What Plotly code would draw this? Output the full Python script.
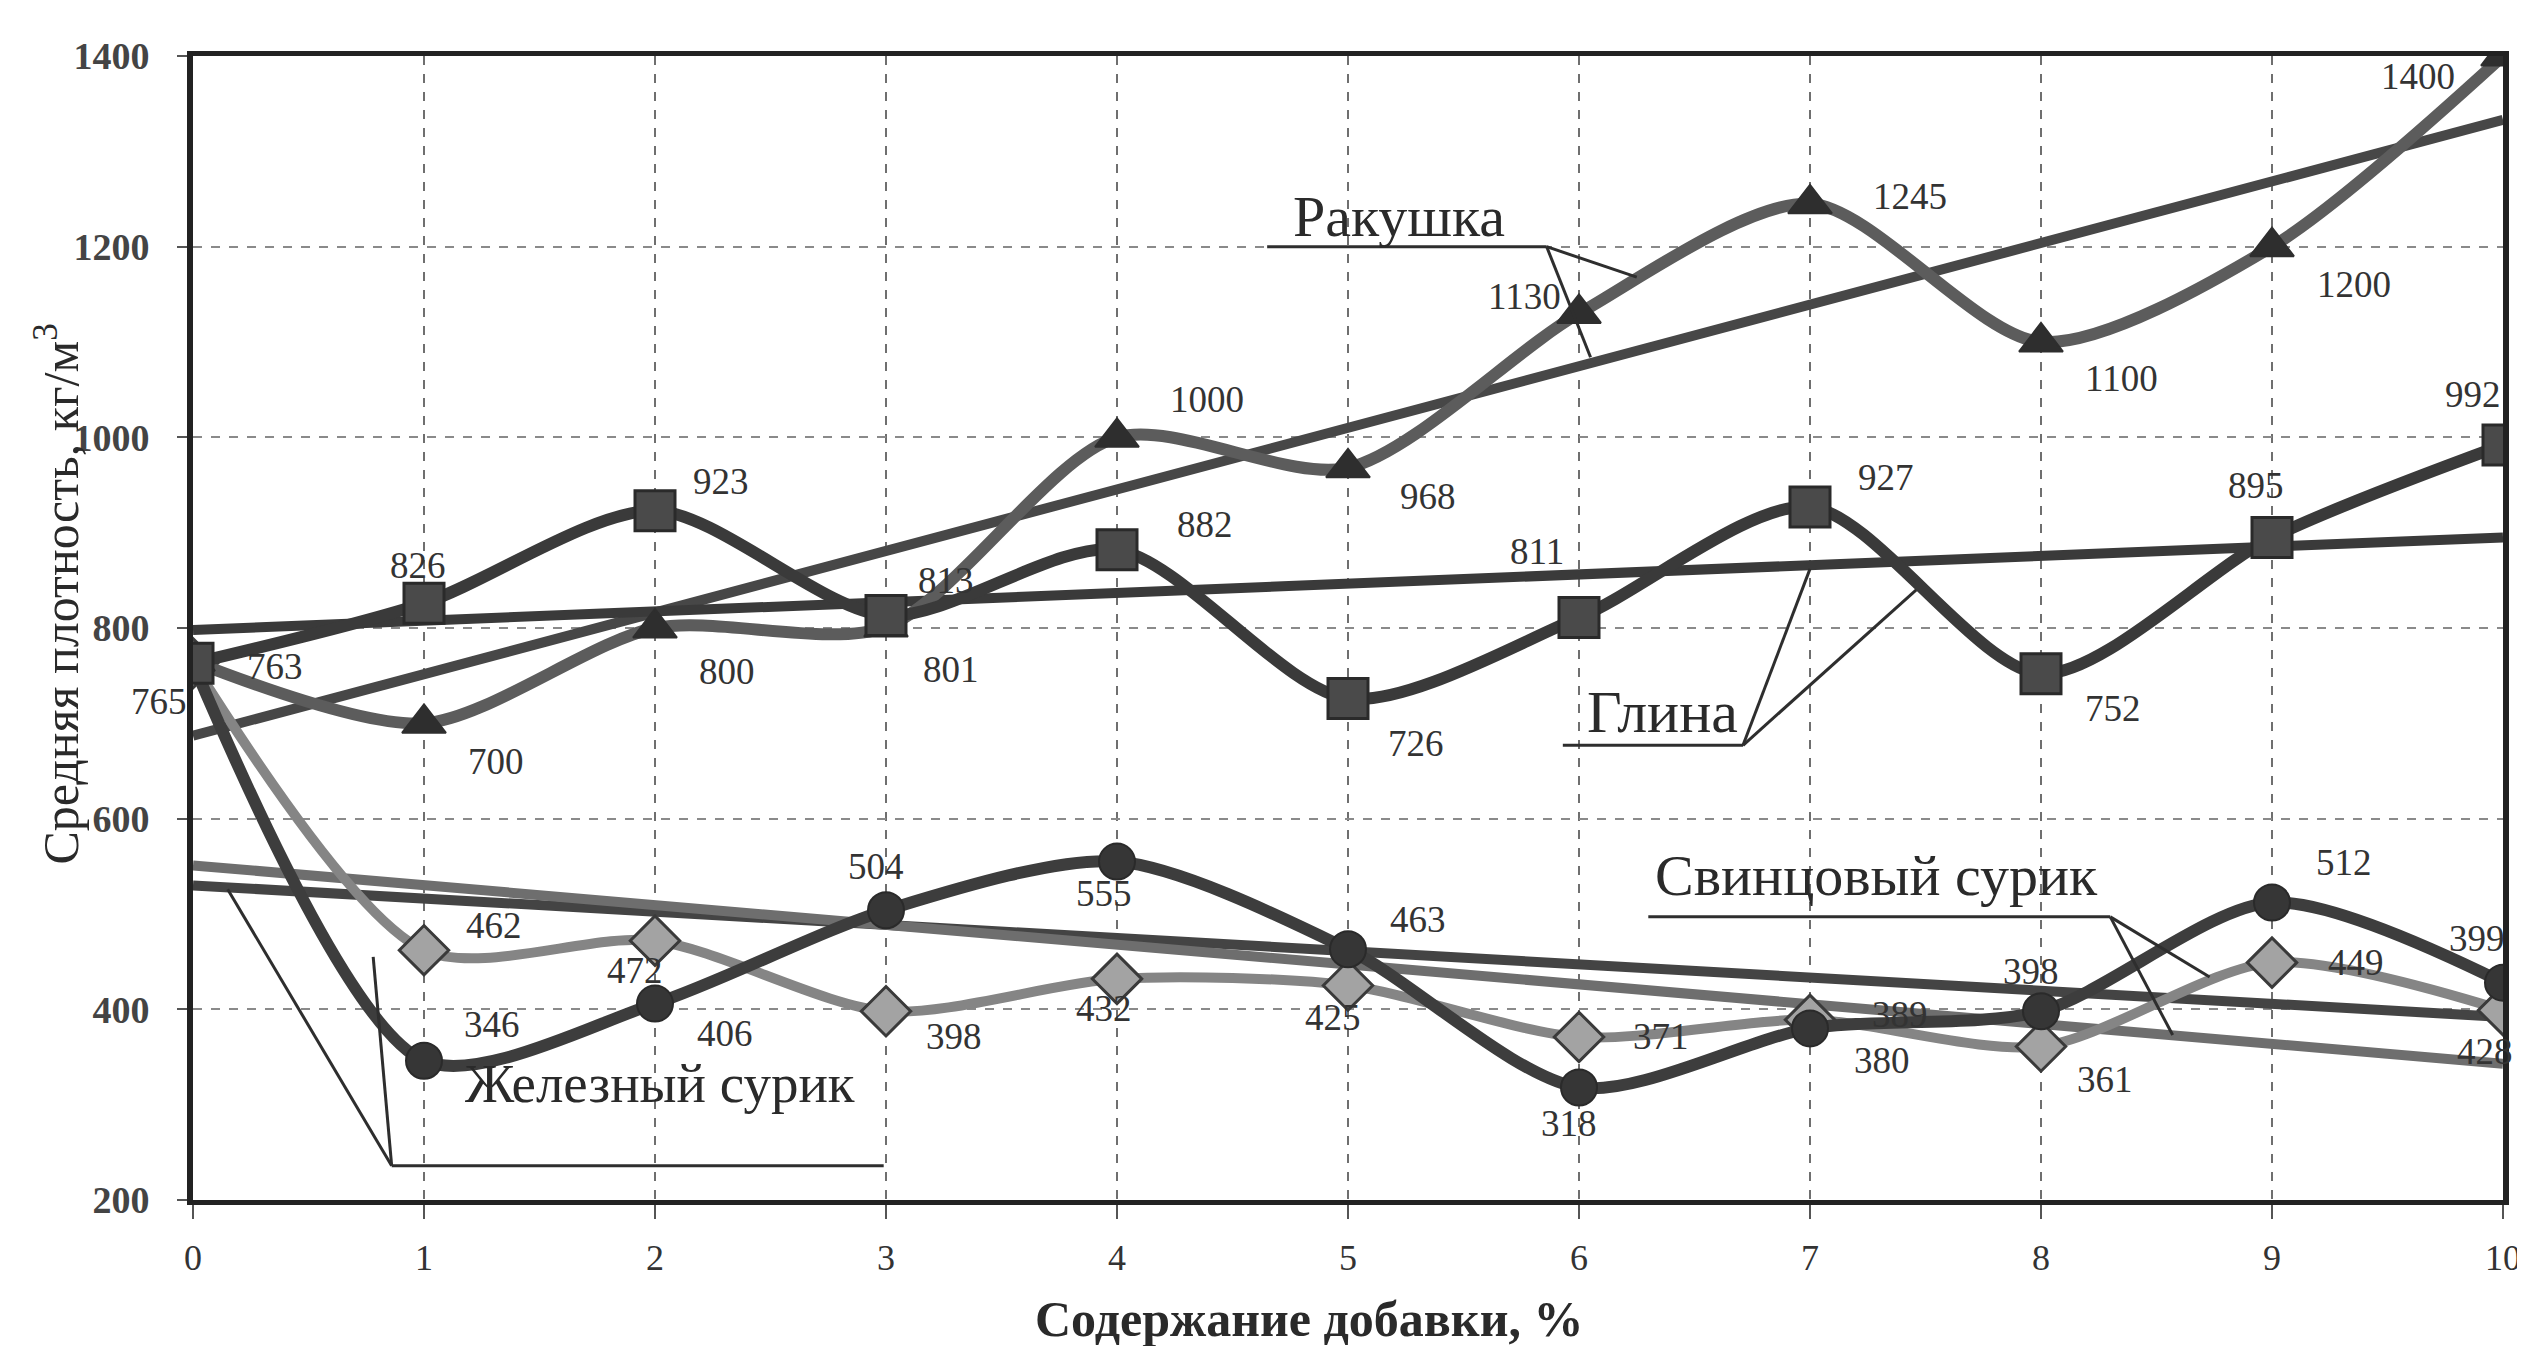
import plotly.graph_objects as go

# ---------------- data ----------------
x_pct = [0, 1, 2, 3, 4, 5, 6, 7, 8, 9, 10]
x_tick_vals = [0, 1, 2, 3, 4, 5, 6, 7, 8, 9, 10]
y_tick_vals = [200, 400, 600, 800, 1000, 1200, 1400]

rakushka = [765, 700, 800, 801, 1000, 968, 1130, 1245, 1100, 1200, 1400]
glina = [763, 826, 923, 813, 882, 726, 811, 927, 752, 895, 992]
zhelezny = [763, 346, 406, 504, 555, 463, 318, 380, 398, 512, 428]
svintsovy = [763, 462, 472, 398, 432, 425, 371, 389, 361, 449, 399]

trend_x = [0, 10]
rakushka_trend = [687, 1333]
glina_trend = [798, 895]
zhelezny_trend = [530, 392]
svintsovy_trend = [551, 343]

# ---------------- label offsets (pixels; None = no label) ----------------
rak_off = [(-34, -40), (72, -38), (72, -43), (65, -42), (90, 38), (80, -29),
           (-16, 17, "right"), (100, 7), (80, -36), (82, -38), (-85, -20)]
gl_off = [(82, -3), (-6, 38), (66, 29), (60, 35), (88, 25), (68, -45),
          (-42, 66), (76, 29), (72, -35), (-16, 52), (-30, 50)]
zh_off = [None, (68, 36), (70, -30), (-10, 44), (-13, -32), (70, 30),
          (-10, -36), (72, -32), (-10, 40), (72, 40), (-18, -69)]
sv_off = [None, (70, 25), (-20, -30), (68, -25), (-13, -30), (-15, -32),
          (82, 0), (90, 5), (64, -33), (84, 0), (-26, 72)]

SERIF = "Liberation Serif, Times New Roman, serif"
DARK = "#333333"

fig = go.Figure()

# trend lines
for ty, col in [(rakushka_trend, "#474747"), (glina_trend, "#3a3a3a"),
                (zhelezny_trend, "#444444"), (svintsovy_trend, "#6e6e6e")]:
    fig.add_trace(go.Scatter(x=trend_x, y=ty, mode="lines",
                             line=dict(color=col, width=10),
                             showlegend=False, hoverinfo="skip"))

# data series
fig.add_trace(go.Scatter(
    x=x_pct, y=svintsovy, mode="lines+markers", name="Свинцовый сурик",
    line=dict(color="#858585", width=10, shape="spline", smoothing=0.8),
    marker=dict(symbol="diamond", size=38, color="#a3a3a3",
                line=dict(color="#3a3a3a", width=3))))
fig.add_trace(go.Scatter(
    x=x_pct, y=zhelezny, mode="lines+markers", name="Железный сурик",
    line=dict(color="#3d3d3d", width=12, shape="spline", smoothing=0.8),
    marker=dict(symbol="circle", size=36, color="#363636",
                line=dict(color="#2a2a2a", width=2))))
fig.add_trace(go.Scatter(
    x=x_pct, y=rakushka, mode="lines+markers", name="Ракушка",
    line=dict(color="#5c5c5c", width=12, shape="spline", smoothing=0.8),
    marker=dict(symbol="triangle-up", size=38, color="#2e2e2e",
                line=dict(color="#2e2e2e", width=2))))
fig.add_trace(go.Scatter(
    x=x_pct, y=glina, mode="lines+markers", name="Глина",
    line=dict(color="#3a3a3a", width=12, shape="spline", smoothing=0.8),
    marker=dict(symbol="square", size=40, color="#4a4a4a",
                line=dict(color="#2a2a2a", width=3))))

annotations = []


def add_labels(values, offsets):
    for xv, yv, off in zip(x_pct, values, offsets):
        if off is None:
            continue
        anchor = off[2] if len(off) > 2 else "center"
        annotations.append(dict(
            x=xv, y=yv, xref="x", yref="y", text=str(yv), showarrow=False,
            xshift=off[0], yshift=off[1], xanchor=anchor, yanchor="middle",
            font=dict(family=SERIF, size=37, color=DARK)))


add_labels(rakushka, rak_off)
add_labels(glina, gl_off)
add_labels(zhelezny, zh_off)
add_labels(svintsovy, sv_off)

# callout names
for txt, tx, ty, sz in [("Ракушка", 5.22, 1232, 58), ("Глина", 6.36, 712, 60),
                        ("Свинцовый сурик", 7.29, 540, 58),
                        ("Железный сурик", 2.02, 322, 55)]:
    annotations.append(dict(x=tx, y=ty, xref="x", yref="y", text=txt,
                            showarrow=False, xanchor="center", yanchor="middle",
                            font=dict(family=SERIF, size=sz, color="#2a2a2a")))

# axis titles
annotations.append(dict(x=-0.0585, y=0.53, xref="paper", yref="paper",
                        text="Средняя плотность, кг/м<sup>3</sup>", textangle=-90,
                        showarrow=False, xanchor="center", yanchor="middle",
                        font=dict(family=SERIF, size=50, color="#2a2a2a")))
annotations.append(dict(x=0.483, y=-0.104, xref="paper", yref="paper",
                        text="Содержание добавки, %",
                        showarrow=False, xanchor="center", yanchor="middle",
                        font=dict(family=SERIF, size=50, color="#2a2a2a",
                                  weight="bold")))

# leader lines (callout underline + pointers)
leaders = [
    # Ракушка
    (4.65, 1200, 5.86, 1200), (5.86, 1200, 6.25, 1168), (5.86, 1200, 6.05, 1084),
    # Глина
    (5.93, 677, 6.71, 677), (6.71, 677, 7.0, 862), (6.71, 677, 7.46, 840),
    # Свинцовый сурик
    (6.30, 497, 8.30, 497), (8.30, 497, 8.73, 434), (8.30, 497, 8.57, 373),
    # Железный сурик
    (0.86, 236, 2.99, 236), (0.86, 236, 0.15, 526), (0.86, 236, 0.78, 455),
]
shapes = [dict(type="line", xref="x", yref="y", x0=a, y0=b, x1=c, y1=d,
               line=dict(color="#2e2e2e", width=3)) for a, b, c, d in leaders]

fig.update_layout(
    width=2525, height=1346, autosize=False,
    margin=dict(l=185, r=26, t=48, b=154),
    paper_bgcolor="white", plot_bgcolor="white",
    showlegend=False,
    annotations=annotations, shapes=shapes,
    font=dict(family=SERIF, color=DARK),
)
fig.update_xaxes(range=[0, 10], tickvals=x_tick_vals,
                 showgrid=True, gridcolor="#6f6f6f", gridwidth=1.5, griddash="dash",
                 showline=True, linecolor="#222222", linewidth=5, mirror=True,
                 ticks="outside", ticklen=14, tickwidth=1.5, tickcolor="#555",
                 ticklabelstandoff=8, zeroline=False,
                 tickfont=dict(family=SERIF, size=36, color="#333"))
fig.update_yaxes(range=[200, 1400], tickvals=y_tick_vals,
                 showgrid=True, gridcolor="#8a8a8a", gridwidth=1.5, griddash="dash",
                 showline=True, linecolor="#222222", linewidth=6, mirror=True,
                 ticks="outside", ticklen=10, tickwidth=1.5, tickcolor="#555",
                 ticklabelstandoff=20, zeroline=False,
                 tickfont=dict(family=SERIF, size=38, color="#444", weight="bold"))

fig.write_html("out.html")
